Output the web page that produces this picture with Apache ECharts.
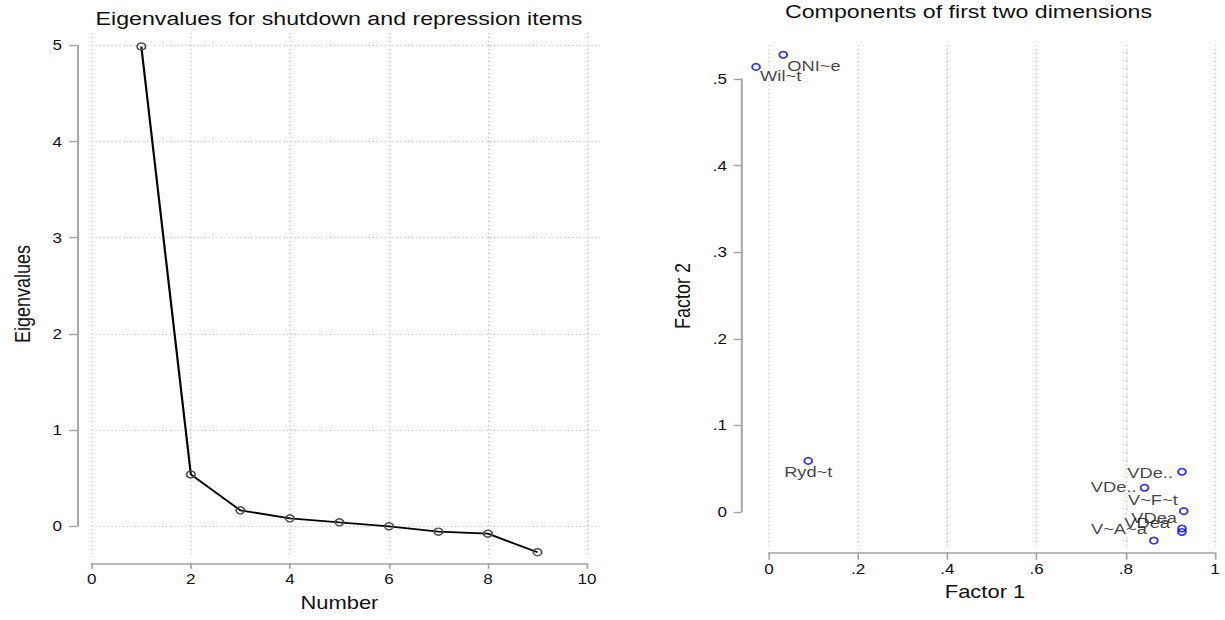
<!DOCTYPE html>
<html>
<head>
<meta charset="utf-8">
<title>Eigenvalues and factor components</title>
<script src="https://cdn.jsdelivr.net/npm/echarts@6/dist/echarts.min.js"></script>
<style>
  html, body { margin: 0; padding: 0; background: #fff; overflow: hidden; }
  #stage { width: 1225px; height: 620px; overflow: hidden; position: relative; }
  #chart { height: 620px; transform-origin: 0 0; position: absolute; left: 0; top: 0; }
</style>
</head>
<body>
<div id="stage"><div id="chart"></div></div>
<script>
// ---- scree plot ----
const eigenNumber = [1, 2, 3, 4, 5, 6, 7, 8, 9];
const eigenValues = [4.99, 0.537, 0.163, 0.080, 0.038, -0.003, -0.059, -0.080, -0.273];
const numberTicks = [0, 2, 4, 6, 8, 10];
const eigenTicks = [0, 1, 2, 3, 4, 5];

// ---- loadings on the first two factors ----
const itemNames = ['Wil~t', 'ONI~e', 'Ryd~t', 'VDe..', 'VDe..', 'V~F~t', 'VDea', 'VDea', 'V~A~a'];
const factor1 = [-0.029, 0.032, 0.088, 0.926, 0.842, 0.930, 0.926, 0.926, 0.863];
const factor2 = [0.514, 0.528, 0.059, 0.0465, 0.028, 0.001, -0.019, -0.023, -0.033];
const factor1Ticks = [0, 0.2, 0.4, 0.6, 0.8, 1];
const factor2Ticks = [0, 0.1, 0.2, 0.3, 0.4, 0.5];

// marker label anchors, offset from the marker centre in screen px
const labelPlacement = [
  { dx: 5, dy: 10, align: 'left' },
  { dx: 5, dy: 12, align: 'left' },
  { dx: 1, dy: 12, align: 'center' },
  { dx: -8, dy: 2, align: 'right' },
  { dx: -7, dy: 0, align: 'right' },
  { dx: -5, dy: -10, align: 'right' },
  { dx: -4, dy: -10, align: 'right' },
  { dx: -11, dy: -8, align: 'right' },
  { dx: -6, dy: -11, align: 'right' }
];

// the graph is laid out in a narrower box and widened horizontally
const SX = 1.22;
const W = 1225 / SX;
const hx = v => v / SX;

const FONT = "'Liberation Sans', Arial, Helvetica, sans-serif";
const AXIS_GRAY = '#a3a3a3';
const GRID_GRAY = '#c2c2c2';

const el = document.getElementById('chart');
el.style.width = W + 'px';
el.style.transform = 'scaleX(' + SX + ')';

const tickSpec = t => ({ min: t[0], max: t[t.length - 1], interval: +(t[1] - t[0]).toFixed(6) });
const dropZero = v => {
  const s = String(+(+v).toFixed(3));
  return s.replace(/^(-?)0\./, '$1.');
};

const hidden = { show: false };
const lineAxis = { show: true, onZero: false, lineStyle: { color: AXIS_GRAY, width: 1.6 } };
const tickStyle = len => ({ show: true, length: len, inside: false, lineStyle: { color: AXIS_GRAY, width: 1.4 } });
const labelStyle = (margin, fmt) => ({
  show: true, margin: margin, fontSize: 14, color: '#111', fontFamily: FONT,
  formatter: fmt, showMinLabel: true, showMaxLabel: true
});
const nameStyle = { fontSize: 18, color: '#111', fontFamily: FONT };

const scatterData = factor1.map((x, i) => {
  const p = labelPlacement[i];
  const sz = 6.4;
  return {
    value: [x, factor2[i]],
    label: {
      position: [sz / 2 + hx(p.dx), sz / 2 + p.dy],
      align: p.align,
      verticalAlign: 'middle'
    }
  };
});

const option = {
  backgroundColor: '#fff',
  animation: false,
  textStyle: { fontFamily: FONT },
  title: [
    {
      text: 'Eigenvalues for shutdown and repression items',
      left: hx(339), top: 9, textAlign: 'center', padding: 0,
      textStyle: { fontSize: 19, fontWeight: 'normal', color: '#111', fontFamily: FONT }
    },
    {
      text: 'Components of first two dimensions',
      left: hx(968.5), top: 2, textAlign: 'center', padding: 0,
      textStyle: { fontSize: 19, fontWeight: 'normal', color: '#111', fontFamily: FONT }
    }
  ],
  grid: [
    // 0: scree data area (x 0..10, y 0..5)
    { left: hx(91.8), top: 45.5, width: hx(495.2), height: 480.5, outerBoundsMode: 'none' },
    // 1: eigenvalue axis and horizontal rules
    { left: hx(91.8), top: 45.5, width: hx(508.2), height: 480.5, outerBoundsMode: 'none' },
    // 2: number axis and vertical rules
    { left: hx(91.8), top: 33, width: hx(495.2), height: 522, outerBoundsMode: 'none' },
    // 3: loadings data area (x 0..1, y 0..0.5)
    { left: hx(769), top: 79, width: hx(446), height: 433, outerBoundsMode: 'none' },
    // 4: factor 1 axis and vertical rules
    { left: hx(769), top: 45, width: hx(446), height: 502, outerBoundsMode: 'none' }
  ],
  xAxis: [
    Object.assign({ gridIndex: 0, type: 'value', show: false }, tickSpec(numberTicks)),
    { gridIndex: 1, type: 'value', show: false, min: 0, max: 1 },
    Object.assign({
      gridIndex: 2, type: 'value', position: 'bottom', offset: 8.3,
      axisLine: lineAxis, axisTick: tickStyle(5.5),
      axisLabel: labelStyle(8.7, v => String(v)),
      splitLine: { show: true, lineStyle: { color: GRID_GRAY, width: 1, type: [1, 3] } },
      name: 'Number', nameLocation: 'middle', nameGap: 30.5, nameTextStyle: nameStyle
    }, tickSpec(numberTicks)),
    Object.assign({ gridIndex: 3, type: 'value', show: false }, tickSpec(factor1Ticks)),
    Object.assign({
      gridIndex: 4, type: 'value', position: 'bottom', offset: 5.7,
      axisLine: lineAxis, axisTick: tickStyle(7),
      axisLabel: labelStyle(9.3, dropZero),
      splitLine: { show: true, lineStyle: { color: GRID_GRAY, width: 1, type: [1, 3] } },
      name: 'Factor 1', nameLocation: 'middle', nameGap: 30,
      nameTextStyle: Object.assign({ padding: [0, hx(14), 0, 0] }, nameStyle)
    }, tickSpec(factor1Ticks))
  ],
  yAxis: [
    Object.assign({ gridIndex: 0, type: 'value', show: false }, tickSpec(eigenTicks)),
    Object.assign({
      gridIndex: 1, type: 'value', position: 'left', offset: hx(14.3),
      axisLine: lineAxis, axisTick: tickStyle(hx(8.3)),
      axisLabel: labelStyle(hx(15.5), v => String(v)),
      splitLine: { show: true, lineStyle: { color: GRID_GRAY, width: 1, type: [0.9, 2.3] } }
    }, tickSpec(eigenTicks)),
    {
      gridIndex: 2, type: 'value', min: 0, max: 1, position: 'left',
      axisLine: hidden, axisTick: hidden, axisLabel: hidden, splitLine: hidden,
      name: 'Eigenvalues', nameLocation: 'middle', nameGap: 48.2, nameRotate: 90,
      nameTextStyle: nameStyle
    },
    Object.assign({
      gridIndex: 3, type: 'value', position: 'left', offset: hx(27.7),
      axisLine: lineAxis, axisTick: tickStyle(hx(7.6)),
      axisLabel: labelStyle(hx(14.3), dropZero),
      splitLine: hidden
    }, tickSpec(factor2Ticks)),
    {
      gridIndex: 4, type: 'value', min: 0, max: 1, position: 'left',
      axisLine: hidden, axisTick: hidden, axisLabel: hidden, splitLine: hidden,
      name: 'Factor 2', nameLocation: 'middle', nameGap: 62.3, nameRotate: 90,
      nameTextStyle: nameStyle
    }
  ],
  series: [
    {
      type: 'line',
      xAxisIndex: 0, yAxisIndex: 0,
      data: eigenNumber.map((n, i) => [n, eigenValues[i]]),
      clip: false,
      symbol: 'circle', symbolSize: 7,
      lineStyle: { color: '#000', width: 1.8 },
      itemStyle: { color: 'rgba(0,0,0,0)', borderColor: '#4d4d4d', borderWidth: 1.4 },
      emphasis: { disabled: true },
      silent: true, z: 3
    },
    {
      type: 'scatter',
      xAxisIndex: 3, yAxisIndex: 3,
      data: scatterData,
      clip: false,
      symbol: 'circle', symbolSize: 6.4,
      itemStyle: { color: 'rgba(0,0,0,0)', borderColor: '#0000ff', borderWidth: 1.6 },
      label: {
        show: true, fontSize: 15, color: '#111', fontFamily: FONT,
        formatter: p => itemNames[p.dataIndex]
      },
      emphasis: { disabled: true },
      silent: true, z: 3
    }
  ]
};

const chart = echarts.init(el, null, { renderer: 'svg', width: W, height: 620 });
chart.setOption(option);
</script>
</body>
</html>
